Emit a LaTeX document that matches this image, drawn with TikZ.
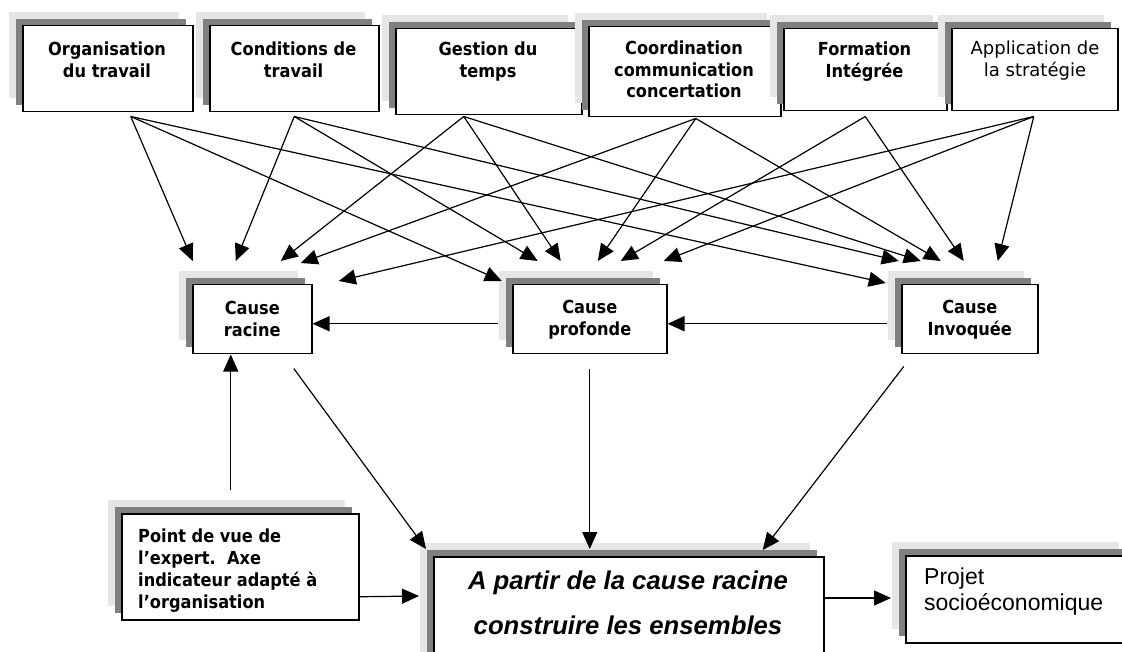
\documentclass[tikz,border=0pt]{standalone}
\usepackage{fontspec}
\usetikzlibrary{arrows.meta,shadows}
\newfontfamily\dvfont[FakeStretch=0.9]{DejaVu Sans}
\newfontfamily\dvplain{DejaVu Sans}
\newfontfamily\arfont{Liberation Sans}
\definecolor{shlight}{RGB}{230,230,230}
\definecolor{shdark}{RGB}{128,128,128}

\begin{document}
\begin{tikzpicture}[x=1pt,y=-1pt,
  panel/.style={draw=black, line width=1.5pt, fill=white, inner sep=0pt, anchor=north west,
    copy shadow={shadow xshift=-14pt, shadow yshift=14pt, fill=shlight, draw=none},
    copy shadow={shadow xshift=-7pt, shadow yshift=7pt, fill=shdark, draw=none}},
  boxtext/.style={font=\dvfont\bfseries\fontsize{18}{21.5}\selectfont, inner sep=0pt, align=center},
  midtext/.style={font=\dvfont\bfseries\fontsize{18}{22}\selectfont, inner sep=0pt, align=center},
  conn/.style={line width=1.2pt, -{Triangle[length=17pt,width=15pt]}}
]
\useasboundingbox (0,0) rectangle (1122,652);

% ---- top row: the six themes ----
\node[panel, minimum width=170pt, minimum height=86pt] (b1) at (22,25) {};
\node[panel, minimum width=169pt, minimum height=86pt] (b2) at (209,25) {};
\node[panel, minimum width=186pt, minimum height=86pt] (b3) at (395,28) {};
\node[panel, minimum width=192pt, minimum height=90pt] (b4) at (588,26) {};
\node[panel, minimum width=163pt, minimum height=82pt] (b5) at (783,28) {};
\node[panel, minimum width=166pt, minimum height=82pt] (b6) at (951,28) {};

\node[boxtext, anchor=north] (t1) at (107,42) {Organisation\\du travail};
\node[boxtext, anchor=north] (t2) at (293.5,42) {Conditions de\\travail};
\node[boxtext, anchor=north] (t3) at (488,42) {Gestion du\\temps};
\node[boxtext, anchor=north] (t4) at (684,41) {Coordination\\communication\\concertation};
\node[boxtext, anchor=north] (t5) at (864.5,42) {Formation\\Intégrée};
\node[boxtext, anchor=north, font=\dvplain\fontsize{18}{21.5}\selectfont] (t6) at (1035,41) {Application de\\la stratégie};

% ---- middle row: the three causes ----
\node[panel, midtext, minimum width=119pt, minimum height=69pt] (cr) at (192,284) {Cause\\racine};
\node[panel, midtext, minimum width=154pt, minimum height=69pt] (cp) at (512,284) {Cause\\profonde};
\node[panel, midtext, minimum width=136pt, minimum height=69pt] (ci) at (901,284) {Cause\\Invoquée};

% ---- bottom row ----
\node[panel, minimum width=237pt, minimum height=106pt] (pv) at (121,513) {};
\node[midtext, align=left, anchor=north west] (pvt) at (138,529)
  {Point de vue de\\l’expert.\ \ Axe\\indicateur adapté à\\l’organisation};
\node[panel, minimum width=390pt, minimum height=144pt] (main) at (433,556) {};
\node[anchor=north, inner sep=0pt, align=center,
  font=\arfont\bfseries\itshape\fontsize{25.7}{45}\selectfont] (mt) at (628,571)
  {A partir de la cause racine\\construire les ensembles};
\node[panel, minimum width=227pt, minimum height=87pt] (ps) at (905,555) {};
\node[anchor=north west, inner sep=0pt, align=left,
  font=\arfont\fontsize{23}{26}\selectfont] (pst) at (924,568) {Projet\\socioéconomique};

% ---- connector ends ----
\coordinate (s1) at ([xshift=23pt,yshift=-4pt]b1.south);
\coordinate (s2) at ([yshift=-4pt]b2.south);
\coordinate (s3) at ([xshift=-25pt,yshift=-1pt]b3.south);
\coordinate (s4) at ([xshift=11pt,yshift=-1pt]b4.south);
\coordinate (s5) at ([yshift=-5pt]b5.south);
\coordinate (s6) at ([xshift=-1pt,yshift=-5pt]b6.south);

\coordinate (cra) at ([xshift=-59.5pt,yshift=23pt]cr.north);
\coordinate (crb) at ([xshift=-16.5pt,yshift=23pt]cr.north);
\coordinate (crc) at ([xshift=28.5pt,yshift=23pt]cr.north);
\coordinate (crd) at ([xshift=48.5pt,yshift=21pt]cr.north);
\coordinate (cre) at ([xshift=86.5pt,yshift=3pt]cr.north);

\coordinate (cpa) at ([xshift=-88pt,yshift=3pt]cp.north);
\coordinate (cpb) at ([xshift=-52pt,yshift=23pt]cp.north);
\coordinate (cpc) at ([xshift=-29pt,yshift=23pt]cp.north);
\coordinate (cpd) at ([xshift=8pt,yshift=23pt]cp.north);
\coordinate (cpe) at ([xshift=31pt,yshift=23pt]cp.north);
\coordinate (cpf) at ([xshift=74pt,yshift=23pt]cp.north);

\coordinate (cia) at ([xshift=-84pt,yshift=1pt]ci.north);
\coordinate (cib) at ([xshift=-71pt,yshift=23pt]ci.north);
\coordinate (cic) at ([xshift=-49pt,yshift=23pt]ci.north);
\coordinate (cid) at ([xshift=-29pt,yshift=23pt]ci.north);
\coordinate (cie) at ([xshift=-6pt,yshift=23pt]ci.north);
\coordinate (cif) at ([xshift=28pt,yshift=23pt]ci.north);

% ---- themes to causes ----
\draw[conn] (s1) -- (cra);
\draw[conn] (s1) -- (cpa);
\draw[conn] (s1) -- (cia);
\draw[conn] (s2) -- (crb);
\draw[conn] (s2) -- (cpb);
\draw[conn] (s2) -- (cib);
\draw[conn] (s3) -- (crc);
\draw[conn] (s3) -- (cpc);
\draw[conn] (s3) -- (cic);
\draw[conn] (s4) -- (crd);
\draw[conn] (s4) -- (cpd);
\draw[conn] (s4) -- (cid);
\draw[conn] (s5) -- (cpe);
\draw[conn] (s5) -- (cie);
\draw[conn] (s6) -- (cre);
\draw[conn] (s6) -- (cpf);
\draw[conn] (s6) -- (cif);

% ---- between causes ----
\draw[conn] ([xshift=-14pt,yshift=-4.5pt]cp.west) -- ([yshift=-4.5pt]cr.east);
\draw[conn] ([xshift=-14pt,yshift=-4.5pt]ci.west) -- ([yshift=-4.5pt]cp.east);

% ---- causes to the construction box ----
\draw[conn] ([xshift=41.5pt,yshift=-14pt]cr.south) -- ([xshift=-7pt,yshift=7pt]main.north west);
\draw[conn] ([yshift=-14pt]cp.south) -- ([xshift=-39pt,yshift=7pt]main.north);
\draw[conn] ([xshift=-66pt,yshift=-12pt]ci.south) -- ([xshift=134pt,yshift=6pt]main.north);

% ---- expert view ----
\draw[conn] ([xshift=-9.5pt,yshift=23pt]pv.north) -- ([xshift=-21.5pt]cr.south);
\draw[conn] ([yshift=-30pt]pv.east) -- ([xshift=-14pt,yshift=-40pt]main.north west);

% ---- to the project ----
\draw[conn] ([yshift=-42pt]main.north east) -- ([xshift=-14pt,yshift=-43pt]ps.north west);
\end{tikzpicture}
\end{document}
